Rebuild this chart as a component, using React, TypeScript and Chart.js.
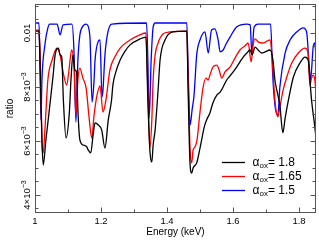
import React, { useEffect, useRef } from "react";
import { Chart, registerables } from "chart.js";

Chart.register(...registerables);

// ---- data (energy in keV, ratio in units of 1e-3) ----
const energyBlack = [
  1.000, 1.012, 1.015, 1.018, 1.021, 1.025, 1.033, 1.040, 1.045, 1.055,
  1.061, 1.071, 1.076, 1.081, 1.086, 1.094, 1.104, 1.109, 1.115, 1.121,
  1.126, 1.130, 1.136, 1.146, 1.157, 1.161, 1.169, 1.176, 1.182, 1.192,
  1.202, 1.212, 1.222, 1.232, 1.236, 1.245, 1.258, 1.273, 1.288, 1.318,
  1.336, 1.342, 1.348, 1.354, 1.358, 1.364, 1.373, 1.379, 1.394, 1.418,
  1.460, 1.464, 1.470, 1.475, 1.479, 1.490, 1.500, 1.505, 1.512, 1.520,
  1.530, 1.539, 1.551, 1.561, 1.570, 1.581, 1.591, 1.611, 1.621, 1.631,
  1.642, 1.652, 1.658, 1.667, 1.676, 1.687, 1.697, 1.712, 1.721, 1.727,
  1.736, 1.742, 1.751, 1.758, 1.768, 1.783, 1.803, 1.818, 1.828, 1.833,
  1.838, 1.848, 1.852,
];
const ratioBlackMilli = [
  10.07, 10.07, 9.00, 7.52, 6.04, 5.11, 6.04, 6.78, 7.33, 8.44,
  9.19, 9.44, 9.19, 9.11, 7.52, 6.11, 7.04, 8.26, 9.19, 8.63,
  8.56, 7.15, 6.04, 5.85, 5.78, 5.67, 5.56, 6.22, 6.67, 6.59,
  6.41, 5.74, 6.78, 7.52, 8.07, 8.56, 9.00, 9.33, 9.56, 9.78,
  9.85, 7.52, 5.67, 5.22, 5.85, 6.41, 7.89, 9.00, 9.74, 10.04,
  10.07, 7.89, 5.11, 4.81, 5.00, 5.19, 5.74, 6.04, 6.48, 6.78,
  7.04, 7.41, 7.70, 7.81, 8.00, 8.26, 8.41, 8.74, 8.93, 9.11,
  9.26, 9.37, 9.19, 9.48, 9.37, 9.26, 9.30, 9.37, 9.00, 8.26,
  7.70, 7.33, 6.30, 6.85, 7.52, 8.37, 8.89, 9.11, 9.00, 8.26,
  7.52, 6.52, 6.04,
];

const energyRed = [
  1.000, 1.012, 1.015, 1.018, 1.021, 1.025, 1.030, 1.039, 1.052, 1.066,
  1.076, 1.085, 1.096, 1.103, 1.111, 1.118, 1.124, 1.130, 1.136, 1.145,
  1.155, 1.164, 1.172, 1.179, 1.188, 1.197, 1.206, 1.215, 1.227, 1.242,
  1.258, 1.288, 1.318, 1.336, 1.342, 1.348, 1.354, 1.358, 1.364, 1.373,
  1.388, 1.409, 1.460, 1.464, 1.470, 1.475, 1.479, 1.485, 1.491, 1.500,
  1.509, 1.518, 1.525, 1.530, 1.539, 1.551, 1.558, 1.566, 1.576, 1.591,
  1.606, 1.621, 1.636, 1.646, 1.655, 1.661, 1.667, 1.676, 1.691, 1.703,
  1.712, 1.718, 1.721, 1.727, 1.736, 1.742, 1.752, 1.763, 1.778, 1.798,
  1.818, 1.827, 1.833, 1.838, 1.843, 1.848, 1.852,
];
const ratioRedMilli = [
  10.11, 10.11, 9.37, 7.89, 6.04, 5.56, 6.41, 8.26, 9.00, 9.44,
  9.19, 8.56, 8.07, 8.63, 9.37, 8.81, 6.96, 8.26, 8.70, 8.33,
  7.96, 6.85, 6.11, 6.96, 7.70, 8.04, 7.07, 7.52, 8.63, 9.11,
  9.44, 9.74, 9.93, 10.00, 7.89, 5.74, 6.78, 8.26, 9.19, 9.63,
  9.96, 10.04, 10.07, 8.26, 5.67, 5.19, 5.67, 5.78, 6.04, 7.07,
  7.96, 8.33, 8.26, 8.44, 8.74, 8.81, 8.63, 8.33, 8.56, 8.74,
  9.07, 9.37, 9.52, 9.63, 8.93, 9.56, 9.78, 9.67, 9.63, 9.70,
  9.74, 9.19, 8.63, 7.52, 6.89, 7.26, 7.89, 8.37, 8.89, 9.26,
  9.44, 9.30, 8.07, 8.33, 8.44, 8.26, 7.70,
];

const energyBlue = [
  1.000, 1.012, 1.015, 1.018, 1.021, 1.030, 1.039, 1.045, 1.067, 1.076,
  1.085, 1.112, 1.118, 1.124, 1.130, 1.136, 1.142, 1.155, 1.164, 1.167,
  1.173, 1.179, 1.182, 1.191, 1.197, 1.203, 1.206, 1.212, 1.221, 1.233,
  1.338, 1.342, 1.346, 1.352, 1.358, 1.364, 1.460, 1.464, 1.470, 1.476,
  1.482, 1.490, 1.500, 1.515, 1.525, 1.535, 1.545, 1.555, 1.561, 1.570,
  1.579, 1.591, 1.611, 1.642, 1.652, 1.657, 1.664, 1.676, 1.714, 1.720,
  1.727, 1.736, 1.742, 1.758, 1.773, 1.793, 1.813, 1.823, 1.831, 1.835,
  1.843, 1.848, 1.852,
];
const ratioBlueMilli = [
  10.37, 10.37, 9.00, 6.78, 8.26, 9.56, 10.19, 10.33, 10.33, 9.93,
  10.30, 10.33, 9.37, 6.70, 9.00, 9.93, 10.19, 10.33, 10.11, 9.74,
  7.44, 8.26, 9.00, 9.67, 9.74, 7.63, 7.89, 9.19, 10.04, 10.33,
  10.37, 9.00, 6.85, 9.00, 10.22, 10.37, 10.37, 8.63, 6.59, 7.15,
  7.70, 9.19, 9.74, 10.04, 9.26, 10.11, 10.15, 9.74, 9.30, 9.37,
  9.59, 9.85, 10.22, 10.33, 10.30, 9.26, 10.22, 10.33, 10.33, 8.52,
  7.33, 6.96, 8.00, 9.26, 9.74, 10.04, 10.19, 10.04, 8.74, 8.26,
  9.48, 9.63, 9.00,
];

const seriesAlpha = ["1.8", "1.65", "1.5"];
const seriesColors = ["#000000", "#ff0000", "#0000ff"];

const xMajorTicks = [1, 1.2, 1.4, 1.6, 1.8];
const xMajorLabels = ["1", "1.2", "1.4", "1.6", "1.8"];
const xMinorTicks = [1.1, 1.3, 1.5, 1.7];

const yMajorTicks = [0.004, 0.006, 0.008, 0.01];
const yMajorMantissa = ["4×10", "6×10", "8×10", "0.01"];
const yMajorExponent = ["−3", "−3", "−3", ""];
const yMinorTicks = [
  0.0035, 0.0045, 0.005, 0.0055, 0.0065, 0.007, 0.0075, 0.0085, 0.009, 0.0095, 0.0105, 0.011,
];

const X_MIN = 1;
const X_MAX = 1.8515;
const Y_MIN = 0.003333;
const Y_MAX = 0.011074;

const FONT = '"Liberation Sans", Arial, sans-serif';

function toPoints(xs: number[], ys: number[]) {
  return xs.map((x, i) => ({ x, y: ys[i] / 1000 }));
}

const framePlugin = {
  id: "frameAndText",
  afterDraw(chart: any) {
    const ctx: CanvasRenderingContext2D = chart.ctx;
    const ca = chart.chartArea;
    const xs = chart.scales.x;
    const ys = chart.scales.y;
    const L = Math.round(ca.left) + 0.5;
    const R = Math.round(ca.right) - 0.5;
    const T = Math.round(ca.top) + 0.5;
    const B = Math.round(ca.bottom) - 0.5;
    ctx.save();
    ctx.strokeStyle = "#555";
    ctx.lineWidth = 1;
    ctx.strokeRect(L, T, R - L, B - T);

    const xTick = (v: number, len: number) => {
      const px = Math.round(xs.getPixelForValue(v)) + 0.5;
      ctx.beginPath();
      ctx.moveTo(px, B);
      ctx.lineTo(px, B - len);
      ctx.moveTo(px, T);
      ctx.lineTo(px, T + len);
      ctx.stroke();
    };
    const yTick = (v: number, len: number) => {
      const py = Math.round(ys.getPixelForValue(v)) + 0.5;
      ctx.beginPath();
      ctx.moveTo(L, py);
      ctx.lineTo(L + len, py);
      ctx.moveTo(R, py);
      ctx.lineTo(R - len, py);
      ctx.stroke();
    };
    xMajorTicks.forEach((v) => xTick(v, 5));
    xMinorTicks.forEach((v) => xTick(v, 3));
    yMajorTicks.forEach((v) => yTick(v, 5));
    yMinorTicks.forEach((v) => yTick(v, 3));

    ctx.fillStyle = "#000";
    // x tick labels
    ctx.font = `9.5px ${FONT}`;
    ctx.textAlign = "center";
    ctx.textBaseline = "alphabetic";
    xMajorTicks.forEach((v, i) => {
      ctx.fillText(xMajorLabels[i], xs.getPixelForValue(v), B + 11);
    });
    // x title
    ctx.font = `10px ${FONT}`;
    ctx.fillText("Energy (keV)", (ca.left + ca.right) / 2, B + 22.5);

    // y tick labels (rotated)
    yMajorTicks.forEach((v, i) => {
      const py = ys.getPixelForValue(v);
      ctx.save();
      ctx.translate(ca.left - 5, py);
      ctx.rotate(-Math.PI / 2);
      ctx.textAlign = "left";
      ctx.font = `9.5px ${FONT}`;
      const wm = ctx.measureText(yMajorMantissa[i]).width;
      ctx.font = `7px ${FONT}`;
      const we = yMajorExponent[i] ? ctx.measureText(yMajorExponent[i]).width : 0;
      const start = -(wm + we) / 2;
      ctx.font = `9.5px ${FONT}`;
      ctx.fillText(yMajorMantissa[i], start, 0);
      if (yMajorExponent[i]) {
        ctx.font = `7px ${FONT}`;
        ctx.fillText(yMajorExponent[i], start + wm, -4.5);
      }
      ctx.restore();
    });
    // y title
    ctx.save();
    ctx.translate(13, (ca.top + ca.bottom) / 2);
    ctx.rotate(-Math.PI / 2);
    ctx.font = `10px ${FONT}`;
    ctx.textAlign = "center";
    ctx.fillText("ratio", 0, 0);
    ctx.restore();

    // legend
    seriesAlpha.forEach((a, i) => {
      const ly = 162.5 + i * 14;
      ctx.strokeStyle = seriesColors[i];
      ctx.lineWidth = 1.3;
      ctx.beginPath();
      ctx.moveTo(222, ly);
      ctx.lineTo(245, ly);
      ctx.stroke();
      ctx.fillStyle = "#000";
      ctx.textAlign = "left";
      let x = 252.5;
      const base = ly + 3.8;
      ctx.font = `12px ${FONT}`;
      ctx.fillText("α", x, base);
      x += ctx.measureText("α").width;
      ctx.font = `8px ${FONT}`;
      ctx.fillText("ox", x, base + 2);
      x += ctx.measureText("ox").width;
      ctx.font = `12px ${FONT}`;
      ctx.fillText("= " + a, x, base);
    });
    ctx.restore();
  },
};

export default function App() {
  const ref = useRef<HTMLCanvasElement>(null);
  useEffect(() => {
    const data = [
      toPoints(energyBlack, ratioBlackMilli),
      toPoints(energyRed, ratioRedMilli),
      toPoints(energyBlue, ratioBlueMilli),
    ];
    const chart = new Chart(ref.current as HTMLCanvasElement, {
      type: "line",
      data: {
        datasets: data.map((d, i) => ({
          label: seriesAlpha[i],
          data: d,
          borderColor: seriesColors[i],
          borderWidth: 1.3,
          pointRadius: 0,
          fill: false,
          cubicInterpolationMode: "monotone" as const,
        })),
      },
      options: {
        animation: false,
        responsive: true,
        maintainAspectRatio: false,
        events: [],
        layout: { padding: { left: 35, right: 3, top: 4, bottom: 29 } },
        plugins: { legend: { display: false }, tooltip: { enabled: false } },
        scales: {
          x: { type: "linear", min: X_MIN, max: X_MAX, display: false },
          y: { type: "linear", min: Y_MIN, max: Y_MAX, display: false },
        },
      },
      plugins: [framePlugin],
    } as any);
    return () => chart.destroy();
  }, []);
  return (
    <div style={{ position: "absolute", left: 0, top: 0, width: 319, height: 242, background: "#fff" }}>
      <canvas ref={ref} />
    </div>
  );
}
